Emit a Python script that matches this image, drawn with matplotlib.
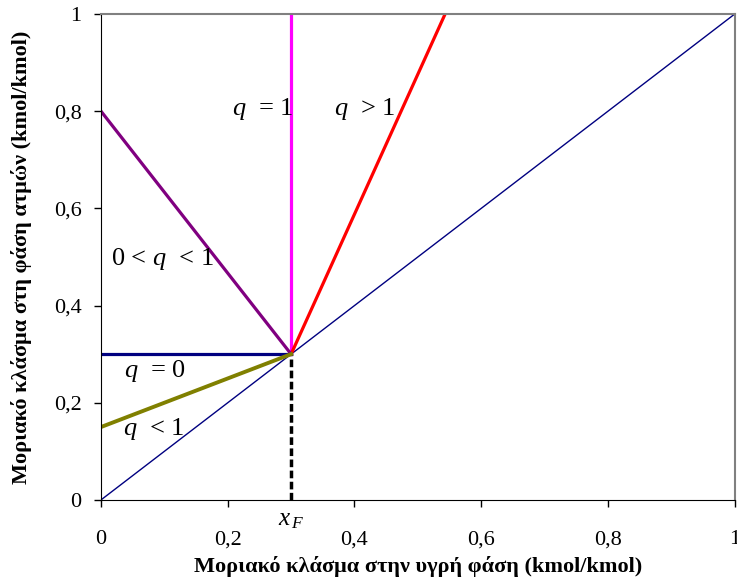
import numpy as np
import matplotlib
matplotlib.use("Agg")
from matplotlib import pyplot as plt

plt.rcParams['font.family'] = ['Liberation Serif', 'DejaVu Serif']
plt.rcParams['mathtext.fontset'] = 'custom'
plt.rcParams['mathtext.it'] = 'Liberation Serif:italic'
plt.rcParams['mathtext.rm'] = 'Liberation Serif'

xF = 0.3
# q-lines through (xF, xF): (x, y) endpoints
diag_x = [0, 1]
diag_y = [0, 1]
q1_x = [0.3, 0.3]
q1_y = [0.3, 1.0]
qgt1_x = [0.3, 0.543]
qgt1_y = [0.3, 1.0]
q01_x = [0.0, 0.3]
q01_y = [0.8, 0.3]
q0_x = [0.0, 0.3]
q0_y = [0.3, 0.3]
qlt1_x = [0.0, 0.3]
qlt1_y = [0.15, 0.3]
feed_x = [0.3, 0.3]
feed_y = [0.0, 0.3]

ticks = [0, 0.2, 0.4, 0.6, 0.8, 1]
tick_labels = ['0', '0,2', '0,4', '0,6', '0,8', '1']

fig = plt.figure(figsize=(7.37, 5.82), dpi=100)
ax = fig.add_axes([0.137, 0.141, 0.860, 0.835])

ax.plot(diag_x, diag_y, color='#000080', lw=1.0)
ax.plot(feed_x, feed_y, color='black', lw=2.5, ls=(0, (2.2, 1.0)))
ax.plot(q1_x, q1_y, color='#FF00FF', lw=2.3)
ax.plot(qgt1_x, qgt1_y, color='#FF0000', lw=2.3)
ax.plot(q01_x, q01_y, color='#800080', lw=2.3)
ax.plot(q0_x, q0_y, color='#000080', lw=2.3)
ax.plot(qlt1_x, qlt1_y, color='#808000', lw=2.8)

fs = 19
ax.text(0.206, 0.805, '$q$  = 1', fontsize=fs, ha='left', va='center')
ax.text(0.368, 0.805, '$q$  > 1', fontsize=fs, ha='left', va='center')
ax.text(0.016, 0.495, '0 < $q$  < 1', fontsize=fs, ha='left', va='center')
ax.text(0.036, 0.265, '$q$  = 0', fontsize=fs, ha='left', va='center')
ax.text(0.034, 0.145, '$q$  < 1', fontsize=fs, ha='left', va='center')

ax.set_xlim(0, 1)
ax.set_ylim(0, 1)
ax.set_xticks(ticks)
ax.set_xticklabels(tick_labels, fontsize=16)
ax.set_yticks(ticks)
ax.set_yticklabels(tick_labels, fontsize=16)
ax.tick_params(direction='out', length=5, width=1)
ax.tick_params(axis='y', pad=9)
ax.tick_params(axis='x', pad=17)
ax.text(xF, -0.018, '$x_{\\,F}$', fontsize=18, ha='center', va='top')

for s in ['top', 'right']:
    ax.spines[s].set_color('gray')
    ax.spines[s].set_linewidth(1.5)
for s in ['left', 'bottom']:
    ax.spines[s].set_color('black')

ax.set_xlabel('Μοριακό κλάσμα στην υγρή φάση (kmol/kmol)', fontsize=16, fontweight='bold', labelpad=5)
ax.set_ylabel('Μοριακό κλάσμα στη φάση ατμών (kmol/kmol)', fontsize=16, fontweight='bold', labelpad=16)

fig.savefig('out.png', dpi=100)
